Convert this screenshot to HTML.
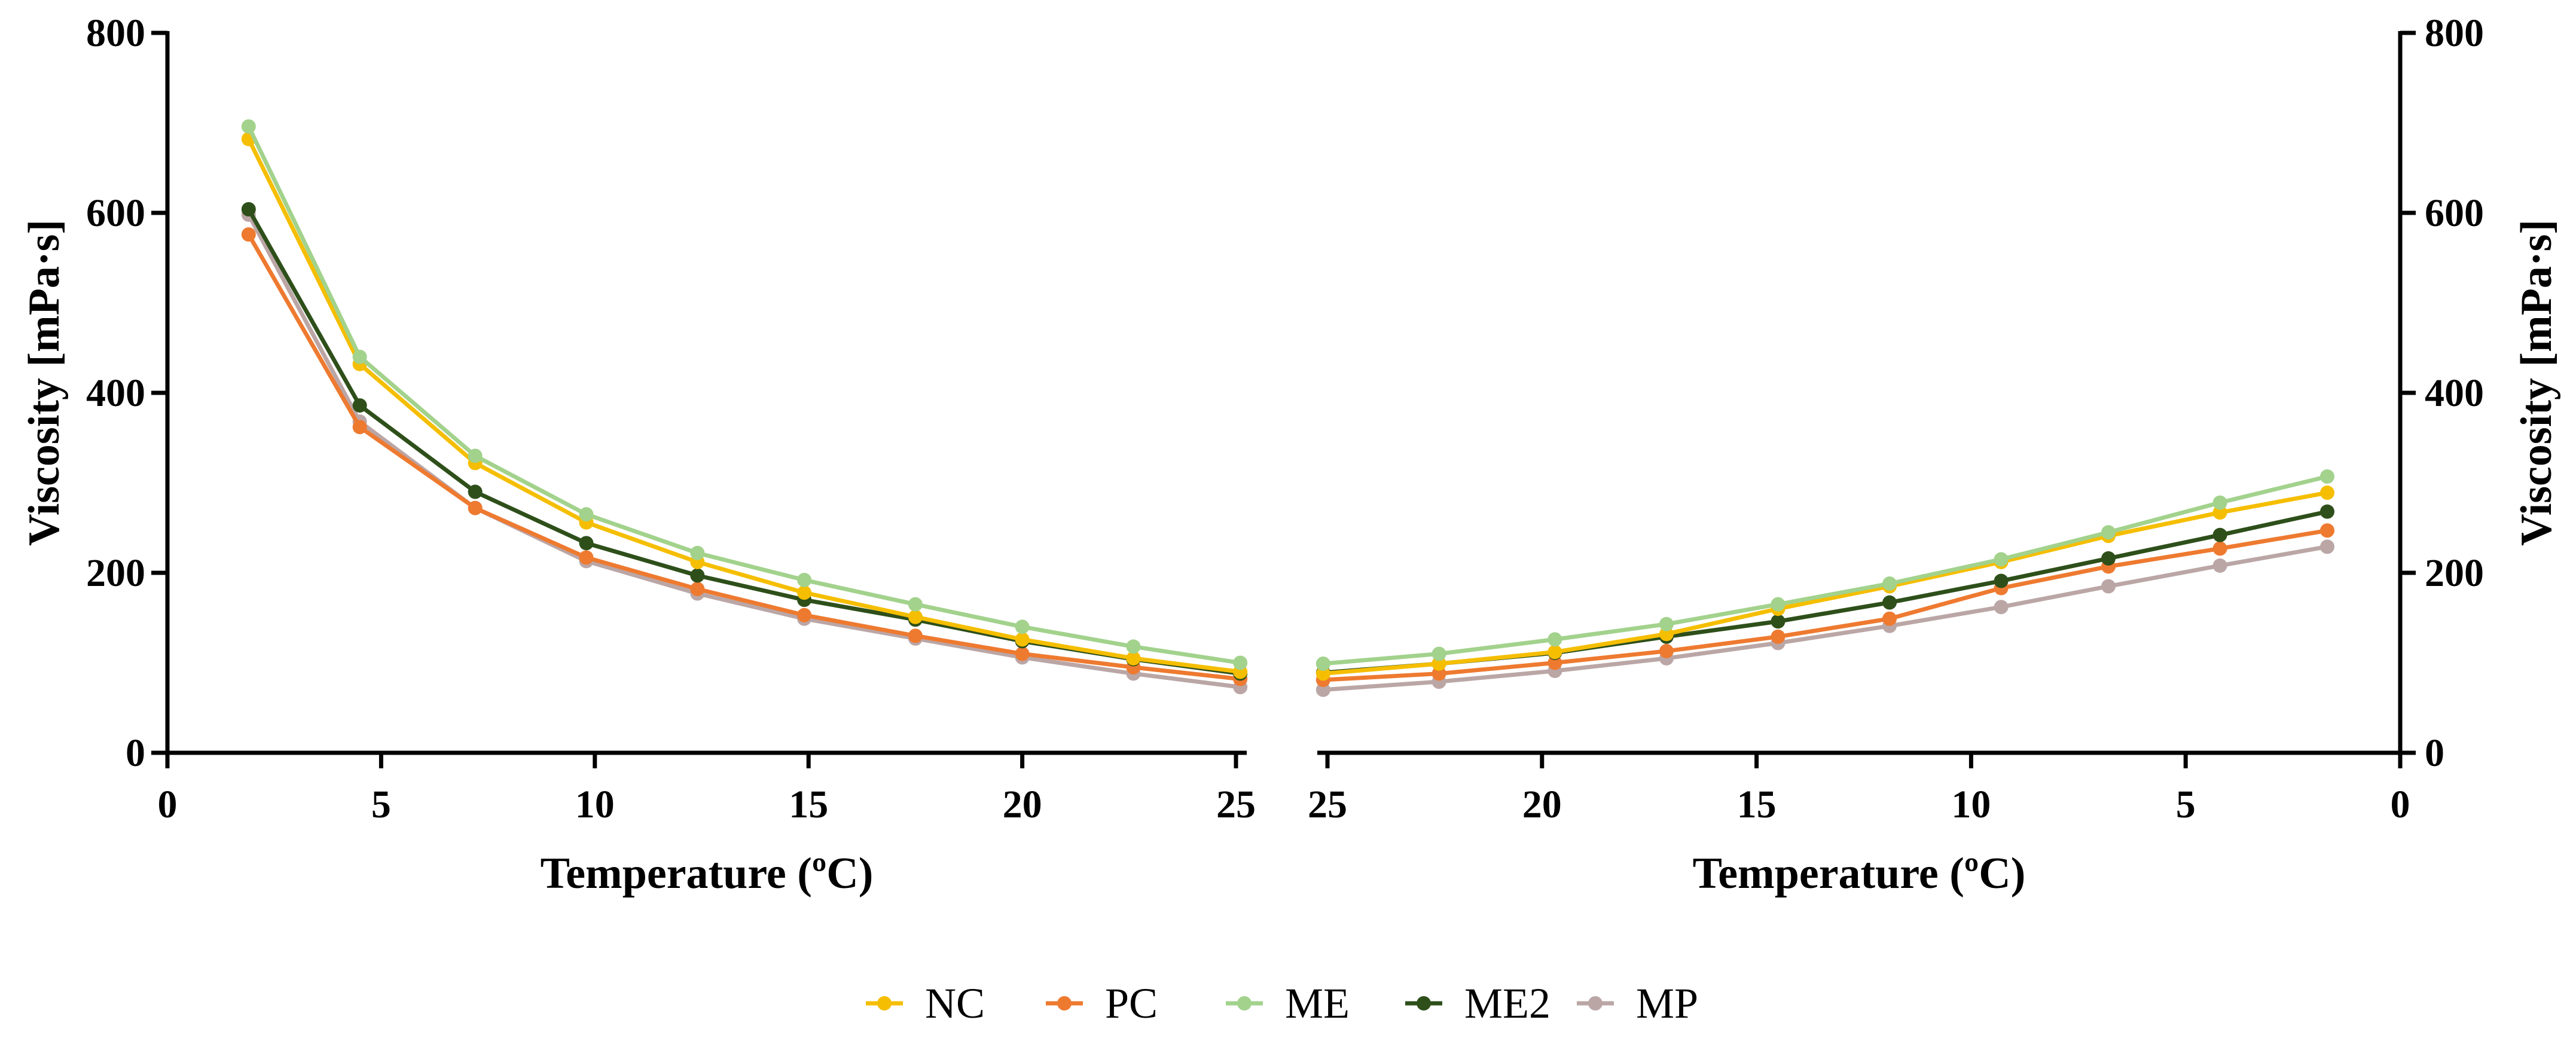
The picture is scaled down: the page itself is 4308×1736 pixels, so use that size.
<!DOCTYPE html>
<html><head><meta charset="utf-8"><style>
html,body{margin:0;padding:0;background:#fff;}
svg{display:block;}
text{font-family:"Liberation Serif",serif;fill:#000;}
</style></head><body>
<svg id="chart" width="4308" height="1736" viewBox="0 0 4308 1736" xmlns="http://www.w3.org/2000/svg">
<g id="axes"></g><g id="series"></g><g id="legend"></g>
</svg>
<script>
const seriesNames = ["MP","PC","ME2","NC","ME"];
const seriesColors = {NC:"#F5BE00",PC:"#EE7A30",ME:"#A2D28C",ME2:"#2E4F1A",MP:"#BBA6A6"};
const leftTemps = [1.9,4.5,7.2,9.8,12.4,14.9,17.5,20.0,22.6,25.1];
const rightTemps = [25.1,22.4,19.7,17.1,14.5,11.9,9.3,6.8,4.2,1.7];
const leftNC  = [682,432,322,256,212,178,151,126,105,90];
const leftPC  = [576,362,272,217,182,153,130,110,95,82];
const leftME  = [696,440,330,265,222,192,165,140,118,100];
const leftME2 = [604,386,290,233,197,170,148,124,104,88];
const leftMP  = [598,368,272,213,177,149,127,106,88,73];
const rightNC  = [88,99,112,132,160,185,212,241,267,289];
const rightPC  = [81,88,100,113,129,149,183,207,227,247];
const rightME  = [99,110,126,143,165,188,215,245,278,307];
const rightME2 = [89,99,111,129,146,167,191,216,242,268];
const rightMP  = [70,79,91,105,122,141,162,185,208,229];
const xTicks = [0,5,10,15,20,25];
const yTicks = [0,200,400,600,800];
const legendOrder = ["NC","PC","ME","ME2","MP"];

const NS="http://www.w3.org/2000/svg";
function mk(tag,attrs,parent){const e=document.createElementNS(NS,tag);for(const k in attrs)e.setAttribute(k,attrs[k]);parent.appendChild(e);return e;}
const Y0=1259, Y800=55;
const yS=v=>Y0+(Y800-Y0)*v/800;
const xL=v=>280+(2067-280)*v/25;
const xR=v=>4014+(2220-4014)*v/25;
const axes=document.getElementById('axes');
const ser=document.getElementById('series');
const leg=document.getElementById('legend');
const AX={stroke:"#000","stroke-width":7,fill:"none"};

// left y axis
let l=mk('line',Object.assign({x1:280,y1:Y800-3,x2:280,y2:Y0+3},AX),axes);


l=mk('line',Object.assign({x1:277,y1:Y0,x2:2085,y2:Y0},AX),axes);


l=mk('line',Object.assign({x1:4014,y1:Y800-3,x2:4014,y2:Y0+3},AX),axes);


l=mk('line',Object.assign({x1:2203,y1:Y0,x2:4040,y2:Y0},AX),axes);



yTicks.forEach(v=>{
  const y=yS(v);
  let t=mk('line',Object.assign({x1:253,y1:y,x2:280,y2:y},AX),axes);
  
  
  let tx=mk('text',{x:243,y:y+22,"text-anchor":"end","font-size":66,"font-weight":"bold"},axes);tx.textContent=v;
  
  
  t=mk('line',Object.assign({x1:4014,y1:y,x2:4040,y2:y},AX),axes);
  
  
  tx=mk('text',{x:4055,y:y+22,"text-anchor":"start","font-size":66,"font-weight":"bold"},axes);tx.textContent=v;
  
  
});
xTicks.forEach(v=>{
  let x=xL(v);
  let t=mk('line',Object.assign({x1:x,y1:Y0,x2:x,y2:Y0+26},AX),axes);
  
  
  let tx=mk('text',{x:x,y:1367,"text-anchor":"middle","font-size":66,"font-weight":"bold"},axes);tx.textContent=v;
  
  
  x=xR(v);
  t=mk('line',Object.assign({x1:x,y1:Y0,x2:x,y2:Y0+26},AX),axes);
  
  
  tx=mk('text',{x:x,y:1367,"text-anchor":"middle","font-size":66,"font-weight":"bold"},axes);tx.textContent=v;
  
  
});
let tt=mk('text',{x:1182,y:1485,"text-anchor":"middle","font-size":74,"font-weight":"bold"},axes);tt.textContent="Temperature (ºC)";


tt=mk('text',{x:3109,y:1485,"text-anchor":"middle","font-size":74,"font-weight":"bold"},axes);tt.textContent="Temperature (ºC)";


tt=mk('text',{x:0,y:0,"text-anchor":"middle","font-size":74,"font-weight":"bold",transform:"translate(98,640) rotate(-90)"},axes);tt.textContent="Viscosity [mPa·s]";


tt=mk('text',{x:0,y:0,"text-anchor":"middle","font-size":74,"font-weight":"bold",transform:"translate(4266,640) rotate(-90)"},axes);tt.textContent="Viscosity [mPa·s]";



const leftData={NC:leftNC,PC:leftPC,ME:leftME,ME2:leftME2,MP:leftMP};
const rightData={NC:rightNC,PC:rightPC,ME:rightME,ME2:rightME2,MP:rightMP};
function drawSeries(name,temps,vals,xf,side){
  const c=seriesColors[name];
  const pts=temps.map((t,i)=>xf(t)+","+yS(vals[i])).join(" ");
  const pl=mk('polyline',{points:pts,fill:"none",stroke:c,"stroke-width":7,"stroke-linejoin":"round"},ser);
  
  
  temps.forEach((t,i)=>{
    const p=mk('circle',{cx:xf(t),cy:yS(vals[i]),r:12,fill:c},ser);
    
    
  });
}
seriesNames.forEach(n=>{drawSeries(n,leftTemps,leftData[n],xL,'left');drawSeries(n,rightTemps,rightData[n],xR,'right');});

const legX=[1479,1780,2081,2381,2668];
legendOrder.forEach((n,i)=>{
  const g=mk('g',{},leg);
  
  
  mk('line',{x1:legX[i]-31,y1:1678,x2:legX[i]+31,y2:1678,stroke:seriesColors[n],"stroke-width":7},g);
  mk('circle',{cx:legX[i],cy:1678,r:12,fill:seriesColors[n]},g);
  const t=mk('text',{x:legX[i]+68,y:1702,"font-size":72},g);t.textContent=n;
});
</script>
</body></html>
